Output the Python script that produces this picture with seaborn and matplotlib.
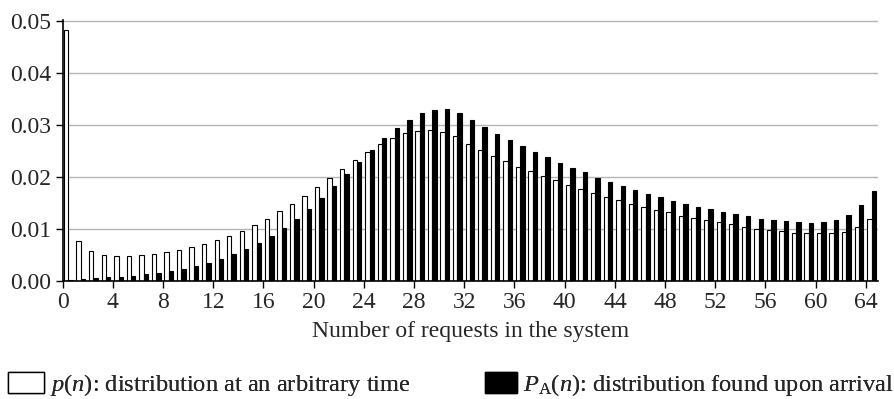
import numpy as np
import pandas as pd
import matplotlib
matplotlib.use("Agg")
import matplotlib.pyplot as plt
from matplotlib.patches import Patch
import seaborn as sns

# number of requests n = 0..64
n_values = list(range(65))

# p(n): distribution at an arbitrary time (white bars)
p_vals = [0.0482, 0.0077, 0.0057, 0.0051, 0.0048, 0.0048, 0.0050, 0.0052, 0.0056, 0.0060,
          0.0065, 0.0072, 0.0079, 0.0087, 0.0097, 0.0107, 0.0120, 0.0134, 0.0149, 0.0164,
          0.0180, 0.0198, 0.0215, 0.0232, 0.0248, 0.0264, 0.0275, 0.0284, 0.0289, 0.0290,
          0.0286, 0.0278, 0.0264, 0.0252, 0.0241, 0.0231, 0.0220, 0.0211, 0.0202, 0.0194,
          0.0185, 0.0177, 0.0169, 0.0162, 0.0155, 0.0149, 0.0143, 0.0137, 0.0132, 0.0126,
          0.0121, 0.0117, 0.0113, 0.0109, 0.0104, 0.0101, 0.0099, 0.0096, 0.0093, 0.0092,
          0.0092, 0.0092, 0.0095, 0.0104, 0.0119]

# P_A(n): distribution found upon arrival (black bars)
pa_vals = [0.0001, 0.0003, 0.0005, 0.0007, 0.0008, 0.0010, 0.0013, 0.0016, 0.0020, 0.0024,
           0.0029, 0.0035, 0.0043, 0.0052, 0.0062, 0.0074, 0.0087, 0.0102, 0.0120, 0.0139,
           0.0160, 0.0182, 0.0205, 0.0229, 0.0252, 0.0275, 0.0295, 0.0310, 0.0323, 0.0329,
           0.0330, 0.0324, 0.0310, 0.0296, 0.0283, 0.0271, 0.0259, 0.0248, 0.0238, 0.0227,
           0.0217, 0.0209, 0.0199, 0.0190, 0.0183, 0.0175, 0.0168, 0.0161, 0.0154, 0.0148,
           0.0143, 0.0138, 0.0133, 0.0129, 0.0125, 0.0120, 0.0118, 0.0115, 0.0113, 0.0112,
           0.0113, 0.0117, 0.0127, 0.0146, 0.0173]

x_tick_values = list(range(0, 65, 4))
y_tick_values = [0.00, 0.01, 0.02, 0.03, 0.04, 0.05]

series_names = ["p", "PA"]
legend_labels = [r"$p(n)$: distribution at an arbitrary time",
                 r"$P_{\mathrm{A}}(n)$: distribution found upon arrival"]


def main():
    sns.set_theme(style="white")
    plt.rcParams["font.family"] = ["Liberation Serif", "DejaVu Serif"]
    plt.rcParams["mathtext.fontset"] = "custom"
    plt.rcParams["mathtext.rm"] = "Liberation Serif"
    plt.rcParams["mathtext.it"] = "Liberation Serif:italic"

    df = pd.DataFrame({
        "n": n_values * 2,
        "value": p_vals + pa_vals,
        "series": [series_names[0]] * len(n_values) + [series_names[1]] * len(n_values),
    })

    fig = plt.figure(figsize=(8.94, 3.99), dpi=100)
    ax = fig.add_axes([0.0701, 0.2957, 0.9125, 0.6541])

    sns.barplot(data=df, x="n", y="value", hue="series", hue_order=series_names,
                palette=["white", "black"], native_scale=True, dodge=True, width=0.7,
                edgecolor="black", linewidth=0.8, errorbar=None, legend=False, ax=ax)

    # ticks sit at the left edge of each pair of bars
    ax.set_xticks([v - 0.45 for v in x_tick_values])
    ax.set_xticklabels([str(v) for v in x_tick_values], fontsize=17)
    ax.set_xlim(-0.45, 64.55)
    ax.set_yticks(y_tick_values)
    ax.set_yticklabels([f"{v:.2f}" for v in y_tick_values], fontsize=17)
    ax.set_ylim(0, 0.0502)

    ax.yaxis.grid(True, color="#b4b4b4", linewidth=1.0)
    ax.xaxis.grid(False)
    ax.set_axisbelow(True)

    for side in ["top", "right"]:
        ax.spines[side].set_visible(False)
    for side in ["left", "bottom"]:
        ax.spines[side].set_color("black")
        ax.spines[side].set_linewidth(1.2)
    ax.tick_params(axis="both", direction="out", length=5, width=1, color="black",
                   pad=3, bottom=True, left=True)

    ax.set_xlabel("Number of requests in the system", fontsize=17, labelpad=6)
    ax.set_ylabel("")

    # two separate legend entries placed under the plot
    handles = [Patch(facecolor="white", edgecolor="black", linewidth=1.0),
               Patch(facecolor="black", edgecolor="black")]
    for handle, label, xpos, hlen in zip(handles, legend_labels, [0.009, 0.5425], [1.48, 1.3]):
        leg = fig.legend([handle], [label], loc="center left", bbox_to_anchor=(xpos, 0.036),
                         frameon=False, fontsize=17.6, handlelength=hlen, handleheight=0.95,
                         handletextpad=0.25, borderpad=0, borderaxespad=0)
        fig.add_artist(leg)

    plt.savefig("out.png", dpi=100)
    plt.close()


if __name__ == "__main__":
    main()
